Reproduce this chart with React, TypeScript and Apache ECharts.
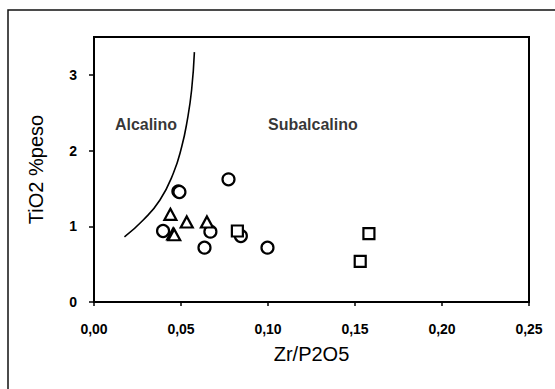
import React, { useEffect, useRef } from "react";
import * as echarts from "echarts";

const xTicks = [0, 0.05, 0.1, 0.15, 0.2, 0.25];
const yTicks = [0, 1, 2, 3];

const circles: [number, number][] = [
  [0.0397, 0.938],
  [0.0485, 1.462],
  [0.0491, 1.452],
  [0.0773, 1.62],
  [0.0635, 0.718],
  [0.0669, 0.929],
  [0.0844, 0.872],
  [0.0997, 0.718],
];

const triangles: [number, number][] = [
  [0.0439, 1.158],
  [0.0455, 0.9],
  [0.0461, 0.888],
  [0.0533, 1.057],
  [0.0649, 1.057],
];

const squares: [number, number][] = [
  [0.0824, 0.938],
  [0.158, 0.903],
  [0.153, 0.537],
];

const boundary: [number, number][] = [
  [0.0175, 0.86],
  [0.0283, 1.083],
  [0.0379, 1.347],
  [0.0456, 1.7],
  [0.0504, 2.05],
  [0.0536, 2.4],
  [0.0561, 2.8],
  [0.0577, 3.3],
];

const regionLabels = [
  { name: "Alcalino", value: [0.012, 2.34] },
  { name: "Subalcalino", value: [0.1, 2.34] },
];

const FONT = "'Liberation Sans', Arial, sans-serif";

export default function App() {
  const ref = useRef<HTMLDivElement>(null);
  useEffect(() => {
    const chart = echarts.init(ref.current!, null, { renderer: "svg" });
    const marker = {
      type: "scatter" as const,
      itemStyle: { color: "#fff", borderColor: "#000", borderWidth: 2.2, opacity: 1 },
      z: 3,
    };
    chart.setOption({
      animation: false,
      backgroundColor: "#fff",
      grid: {
        left: 94,
        right: 26,
        top: 37,
        bottom: 87,
        show: true,
        borderColor: "#000",
        borderWidth: 2,
        backgroundColor: "transparent",
      },
      graphic: [
        {
          type: "rect",
          shape: { x: 8, y: 10, width: 600, height: 420 },
          style: { fill: "none", stroke: "#111", lineWidth: 1.5 },
          silent: true,
        },
      ],
      xAxis: {
        type: "value",
        min: xTicks[0],
        max: xTicks[xTicks.length - 1],
        interval: 0.05,
        name: "Zr/P2O5",
        nameLocation: "middle",
        nameGap: 42,
        nameTextStyle: { fontFamily: FONT, fontSize: 20, color: "#000" },
        axisLine: { show: true, lineStyle: { color: "#000", width: 2 } },
        axisTick: { show: true, inside: false, length: 4, lineStyle: { color: "#000", width: 1.5 } },
        axisLabel: {
          margin: 20,
          fontFamily: FONT,
          fontSize: 14,
          fontWeight: "bold",
          color: "#000",
          formatter: (v: number) => v.toFixed(2).replace(".", ","),
        },
        splitLine: { show: false },
      },
      yAxis: {
        type: "value",
        min: yTicks[0],
        max: 3.5,
        interval: 1,
        name: "TiO2 %peso",
        nameLocation: "middle",
        nameGap: 48,
        nameRotate: 90,
        nameTextStyle: { fontFamily: FONT, fontSize: 20, color: "#000" },
        axisLine: { show: true, lineStyle: { color: "#000", width: 2 } },
        axisTick: { show: true, inside: false, length: 5, lineStyle: { color: "#000", width: 1.5 } },
        axisLabel: {
          margin: 17,
          fontFamily: FONT,
          fontSize: 14,
          fontWeight: "bold",
          color: "#000",
          showMaxLabel: false,
        },
        splitLine: { show: false },
      },
      series: [
        {
          type: "line",
          data: boundary,
          smooth: true,
          showSymbol: false,
          symbol: "none",
          lineStyle: { color: "#000", width: 1.6 },
          z: 2,
        },
        { ...marker, symbol: "circle", symbolSize: 12, data: circles },
        { ...marker, symbol: "triangle", symbolSize: [12, 11], data: triangles },
        { ...marker, symbol: "rect", symbolSize: 11, data: squares },
        {
          type: "scatter",
          symbolSize: 0,
          data: regionLabels,
          label: {
            show: true,
            position: "right",
            distance: 0,
            formatter: "{b}",
            fontFamily: FONT,
            fontSize: 16,
            fontWeight: "bold",
            color: "#000",
          },
          z: 4,
        },
      ],
    });
    return () => chart.dispose();
  }, []);
  return (
    <div
      ref={ref}
      style={{ position: "fixed", left: 0, top: 0, width: 555, height: 389 }}
    />
  );
}
